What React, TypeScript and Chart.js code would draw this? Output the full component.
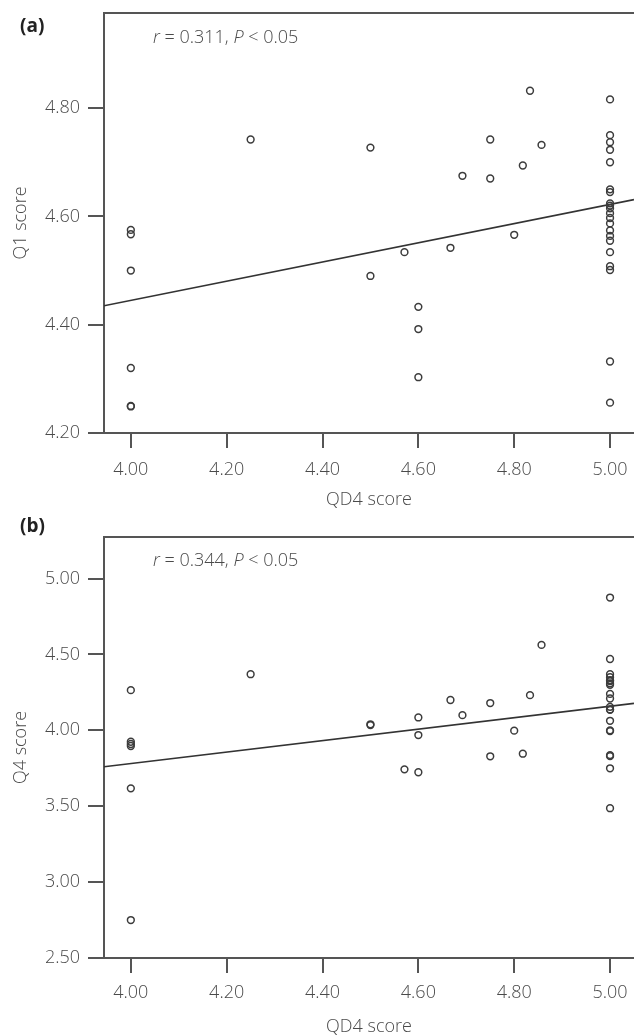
import React, { useEffect, useRef } from 'react';
import { Chart, registerables } from 'chart.js';

Chart.register(...registerables);

// ---- data ----
const xTickValues = [4.0, 4.2, 4.4, 4.6, 4.8, 5.0];
const yTickValuesA = [4.2, 4.4, 4.6, 4.8];
const yTickValuesB = [2.5, 3.0, 3.5, 4.0, 4.5, 5.0];

const qd4A = [
  4.0, 4.0, 4.0, 4.0, 4.0, 4.0,
  4.25,
  4.5, 4.5,
  4.571,
  4.6, 4.6, 4.6,
  4.667,
  4.692,
  4.75, 4.75,
  4.8,
  4.818,
  4.833,
  4.857,
  5.0, 5.0, 5.0, 5.0, 5.0, 5.0, 5.0, 5.0, 5.0, 5.0,
  5.0, 5.0, 5.0, 5.0, 5.0, 5.0, 5.0, 5.0, 5.0, 5.0, 5.0,
];
const q1A = [
  4.575, 4.567, 4.5, 4.32, 4.25, 4.249,
  4.742,
  4.727, 4.49,
  4.534,
  4.433, 4.392, 4.303,
  4.542,
  4.675,
  4.742, 4.67,
  4.566,
  4.694,
  4.832,
  4.732,
  4.816, 4.75, 4.737, 4.723, 4.7, 4.65, 4.645, 4.624, 4.615, 4.606,
  4.597, 4.587, 4.574, 4.564, 4.555, 4.534, 4.508, 4.501, 4.332, 4.256, 4.62,
];

const qd4B = [
  4.0, 4.0, 4.0, 4.0, 4.0, 4.0,
  4.25,
  4.5, 4.5,
  4.571,
  4.6, 4.6, 4.6,
  4.667,
  4.692,
  4.75, 4.75,
  4.8,
  4.818,
  4.833,
  4.857,
  5.0, 5.0, 5.0, 5.0, 5.0, 5.0, 5.0, 5.0, 5.0, 5.0,
  5.0, 5.0, 5.0, 5.0, 5.0, 5.0, 5.0, 5.0, 5.0, 5.0,
];
const q4B = [
  4.265, 3.925, 3.91, 3.897, 3.618, 2.75,
  4.37,
  4.04, 4.035,
  3.743,
  4.085, 3.969, 3.724,
  4.2,
  4.1,
  4.18, 3.829,
  3.998,
  3.846,
  4.232,
  4.563,
  4.875, 4.47, 4.37, 4.35, 4.33, 4.325, 4.31, 4.3, 4.24, 4.21,
  4.155, 4.138, 4.135, 4.063, 4.0, 3.995, 3.837, 3.83, 3.75, 3.487,
];

const fitXA = [3.944, 5.05];
const fitYA = [4.435, 4.631];
const fitXB = [3.944, 5.05];
const fitYB = [3.76, 4.178];

// ---- styling ----
const FONT = "'Open Sans', 'Noto Sans', sans-serif";
const TEXT = '#4a4a4a';
const AXIS = '#555555';

const framePlugin = {
  id: 'topFrame',
  afterDraw(chart: any) {
    const { ctx, chartArea } = chart;
    ctx.save();
    ctx.strokeStyle = AXIS;
    ctx.lineWidth = 2;
    ctx.beginPath();
    ctx.moveTo(chartArea.left - 1, chartArea.top);
    ctx.lineTo(chartArea.right, chartArea.top);
    ctx.stroke();
    ctx.restore();
  },
};

type PanelProps = {
  top: number;
  height: number;
  padTop: number;
  axisH: number;
  xs: number[];
  ys: number[];
  fitX: number[];
  fitY: number[];
  yMin: number;
  yMax: number;
  yTicks: number[];
  yTitle: string;
  tickPad: number;
  titlePadBottom: number;
};

function Panel(p: PanelProps) {
  const ref = useRef<HTMLCanvasElement>(null);
  useEffect(() => {
    const font = { family: FONT, size: 18, weight: 300 as any };
    const zeroPad = (s: any) => {
      s.paddingTop = 0;
      s.paddingBottom = 0;
      s.paddingLeft = 0;
      s.paddingRight = 0;
    };
    const chart = new Chart(ref.current!, {
      type: 'scatter',
      data: {
        datasets: [
          {
            data: p.xs.map((x, i) => ({ x, y: p.ys[i] })),
            pointRadius: 3.4,
            pointHoverRadius: 3.4,
            pointBorderWidth: 1.5,
            borderColor: '#3c3c3c',
            backgroundColor: 'rgba(0,0,0,0)',
            pointBackgroundColor: 'rgba(0,0,0,0)',
          } as any,
          {
            type: 'line',
            data: p.fitX.map((x, i) => ({ x, y: p.fitY[i] })),
            borderColor: '#333333',
            borderWidth: 1.6,
            pointRadius: 0,
            fill: false,
            showLine: true,
          } as any,
        ],
      },
      options: {
        animation: false,
        responsive: false,
        events: [],
        layout: { autoPadding: false, padding: { top: p.padTop, left: 0, right: 0, bottom: 0 } },
        plugins: { legend: { display: false }, tooltip: { enabled: false } },
        scales: {
          x: {
            type: 'linear',
            min: 3.944,
            max: 5.05,
            afterFit: (s: any) => {
              s.height = p.axisH;
              zeroPad(s);
            },
            afterBuildTicks: (s: any) => {
              s.ticks = xTickValues.map((v) => ({ value: v }));
            },
            ticks: {
              callback: (v: any) => Number(v).toFixed(2),
              padding: p.tickPad,
              font,
              color: TEXT,
              autoSkip: false,
              maxRotation: 0,
            },
            grid: {
              drawOnChartArea: false,
              drawTicks: true,
              tickLength: 15,
              color: AXIS,
              lineWidth: 2,
            },
            border: { display: true, color: AXIS, width: 2 },
            title: {
              display: true,
              text: 'QD4 score',
              font,
              color: TEXT,
              padding: { top: 0, bottom: p.titlePadBottom },
            },
          },
          y: {
            type: 'linear',
            min: p.yMin,
            max: p.yMax,
            afterFit: (s: any) => {
              s.width = 104;
              zeroPad(s);
            },
            afterBuildTicks: (s: any) => {
              s.ticks = p.yTicks.map((v) => ({ value: v }));
            },
            ticks: {
              callback: (v: any) => Number(v).toFixed(2),
              padding: 8,
              font,
              color: TEXT,
              autoSkip: false,
            },
            grid: {
              drawOnChartArea: false,
              drawTicks: true,
              tickLength: 16,
              color: AXIS,
              lineWidth: 2,
            },
            border: { display: true, color: AXIS, width: 2 },
            title: {
              display: true,
              text: p.yTitle,
              font,
              color: TEXT,
              padding: { top: 10, bottom: 0 },
            },
          },
        },
      } as any,
      plugins: [framePlugin],
    });
    return () => chart.destroy();
  }, []);
  return (
    <canvas
      ref={ref}
      width={634}
      height={p.height}
      style={{ position: 'absolute', left: 0, top: p.top, width: 634, height: p.height }}
    />
  );
}

const labelStyle: React.CSSProperties = {
  position: 'absolute',
  left: 20,
  fontFamily: FONT,
  fontWeight: 700,
  fontSize: 19,
  lineHeight: '20px',
  color: '#222',
  margin: 0,
};

const noteStyle: React.CSSProperties = {
  position: 'absolute',
  left: 153,
  fontFamily: FONT,
  fontWeight: 300,
  fontSize: 18,
  lineHeight: '18px',
  color: TEXT,
  whiteSpace: 'nowrap',
  margin: 0,
};

export default function App() {
  return (
    <div style={{ position: 'absolute', left: 0, top: 0, width: 634, height: 1036, background: '#fff', overflow: 'hidden' }}>
      <Panel
        top={0}
        height={515}
        padTop={13}
        axisH={82}
        xs={qd4A}
        ys={q1A}
        fitX={fitXA}
        fitY={fitYA}
        yMin={4.2}
        yMax={4.9756}
        yTicks={yTickValuesA}
        yTitle="Q1 score"
        tickPad={11}
        titlePadBottom={4}
      />
      <Panel
        top={515}
        height={521}
        padTop={22}
        axisH={78}
        xs={qd4B}
        ys={q4B}
        fitX={fitXB}
        fitY={fitYB}
        yMin={2.5}
        yMax={5.274}
        yTicks={yTickValuesB}
        yTitle="Q4 score"
        tickPad={9}
        titlePadBottom={-2}
      />
      <div style={{ ...labelStyle, top: 15 }}>(a)</div>
      <div style={{ ...labelStyle, top: 515 }}>(b)</div>
      <div style={{ ...noteStyle, top: 27 }}>
        <i>r</i> = 0.311, <i>P</i> &lt; 0.05
      </div>
      <div style={{ ...noteStyle, top: 550 }}>
        <i>r</i> = 0.344, <i>P</i> &lt; 0.05
      </div>
    </div>
  );
}
